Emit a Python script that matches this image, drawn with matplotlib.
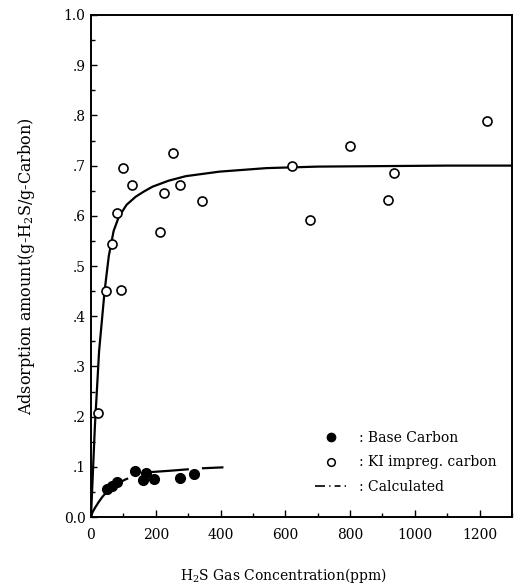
import matplotlib
matplotlib.use("Agg")
import matplotlib.pyplot as plt
from matplotlib.lines import Line2D
from matplotlib.ticker import MultipleLocator, FixedLocator, FixedFormatter

plt.rcParams['font.family'] = ['DejaVu Serif']
plt.rcParams['mathtext.fontset'] = 'dejavuserif'

# KI impregnated carbon (open circles)
ki_conc = [22, 47, 92, 65, 79, 99, 126, 213, 224, 252, 276, 343, 622, 676, 801, 917, 937, 1223]
ki_ads = [0.208, 0.450, 0.452, 0.544, 0.605, 0.695, 0.661, 0.568, 0.645, 0.726, 0.661, 0.629,
          0.700, 0.592, 0.740, 0.631, 0.686, 0.789]

# base carbon (filled circles)
base_conc = [50, 65, 80, 135, 161, 169, 195, 274, 318]
base_ads = [0.055, 0.062, 0.070, 0.092, 0.074, 0.088, 0.075, 0.077, 0.086]

# calculated isotherms
ki_calc_conc = [0, 12, 25, 42, 55, 70, 86, 110, 138, 165, 190, 240, 293, 397, 542, 700, 900, 1100, 1300]
ki_calc_ads = [0, 0.18, 0.33, 0.45, 0.52, 0.57, 0.598, 0.622, 0.638, 0.649, 0.658, 0.670, 0.679,
               0.688, 0.695, 0.698, 0.699, 0.700, 0.700]
base_calc_conc = [0, 5, 14, 25, 35, 55, 75, 95, 107, 140, 173, 240, 299, 340, 409]
base_calc_ads = [0, 0.010, 0.020, 0.031, 0.040, 0.055, 0.065, 0.071, 0.075, 0.083, 0.089, 0.092,
                 0.095, 0.097, 0.099]

y_ticks = [0.0, 0.1, 0.2, 0.3, 0.4, 0.5, 0.6, 0.7, 0.8, 0.9, 1.0]
y_labels = ['0.0', '.1', '.2', '.3', '.4', '.5', '.6', '.7', '.8', '.9', '1.0']

fig = plt.figure(figsize=(5.19, 5.88), dpi=100)
ax = fig.add_axes([0.1753, 0.1207, 0.8112, 0.8538])

ax.plot(ki_calc_conc, ki_calc_ads, color='black', lw=1.6, zorder=2)
# dash lengths get multiplied by the line width
ax.plot(base_calc_conc, base_calc_ads, color='black', lw=1.6, zorder=2,
        dashes=(25, 9.4, 18.4, 5.9, 10, 6.2))

ax.plot(ki_conc, ki_ads, 'o', ms=6.5, mfc='white', mec='black', mew=1.2, zorder=3)
ax.plot(base_conc, base_ads, 'o', ms=7, mfc='black', mec='black', zorder=3)

ax.set_xlim(0, 1300)
ax.set_ylim(0, 1.0)

ax.xaxis.set_major_locator(MultipleLocator(200))
ax.xaxis.set_minor_locator(MultipleLocator(100))
ax.yaxis.set_major_locator(FixedLocator(y_ticks))
ax.yaxis.set_major_formatter(FixedFormatter(y_labels))
ax.yaxis.set_minor_locator(MultipleLocator(0.05))

ax.tick_params(axis='both', which='both', direction='in', top=False, right=False, labelsize=10)
ax.tick_params(axis='x', which='major', length=5, width=1, pad=8)
ax.tick_params(axis='x', which='minor', length=3, width=1)
ax.tick_params(axis='y', which='major', length=4, width=1, pad=4)
ax.tick_params(axis='y', which='minor', length=3, width=1)
for sp in ax.spines.values():
    sp.set_linewidth(1.4)

ax.set_xlabel('H$_2$S Gas Concentration(ppm)', fontsize=10)
ax.set_ylabel('Adsorption amount(g-H$_2$S/g-Carbon)', fontsize=11.5)
ax.xaxis.set_label_coords(0.456, -0.098)
ax.yaxis.set_label_coords(-0.128, 0.5)

handles = [
    Line2D([], [], ls='none', marker='o', ms=6, mfc='black', mec='black'),
    Line2D([], [], ls='none', marker='o', ms=5.5, mfc='white', mec='black', mew=1.1),
    Line2D([], [], color='black', lw=1.2, dashes=(6, 2.5, 0.8, 2.5, 3.5, 2.5, 0.8, 1.5)),
]
labels = [': Base Carbon', ': KI impreg. carbon', ': Calculated']
ax.legend(handles, labels, loc='lower left', bbox_to_anchor=(0.52, 0.035), frameon=False,
          fontsize=10, handlelength=2.3, handletextpad=0.8, labelspacing=0.75,
          borderaxespad=0.0)

fig.savefig('out.png', dpi=100)
